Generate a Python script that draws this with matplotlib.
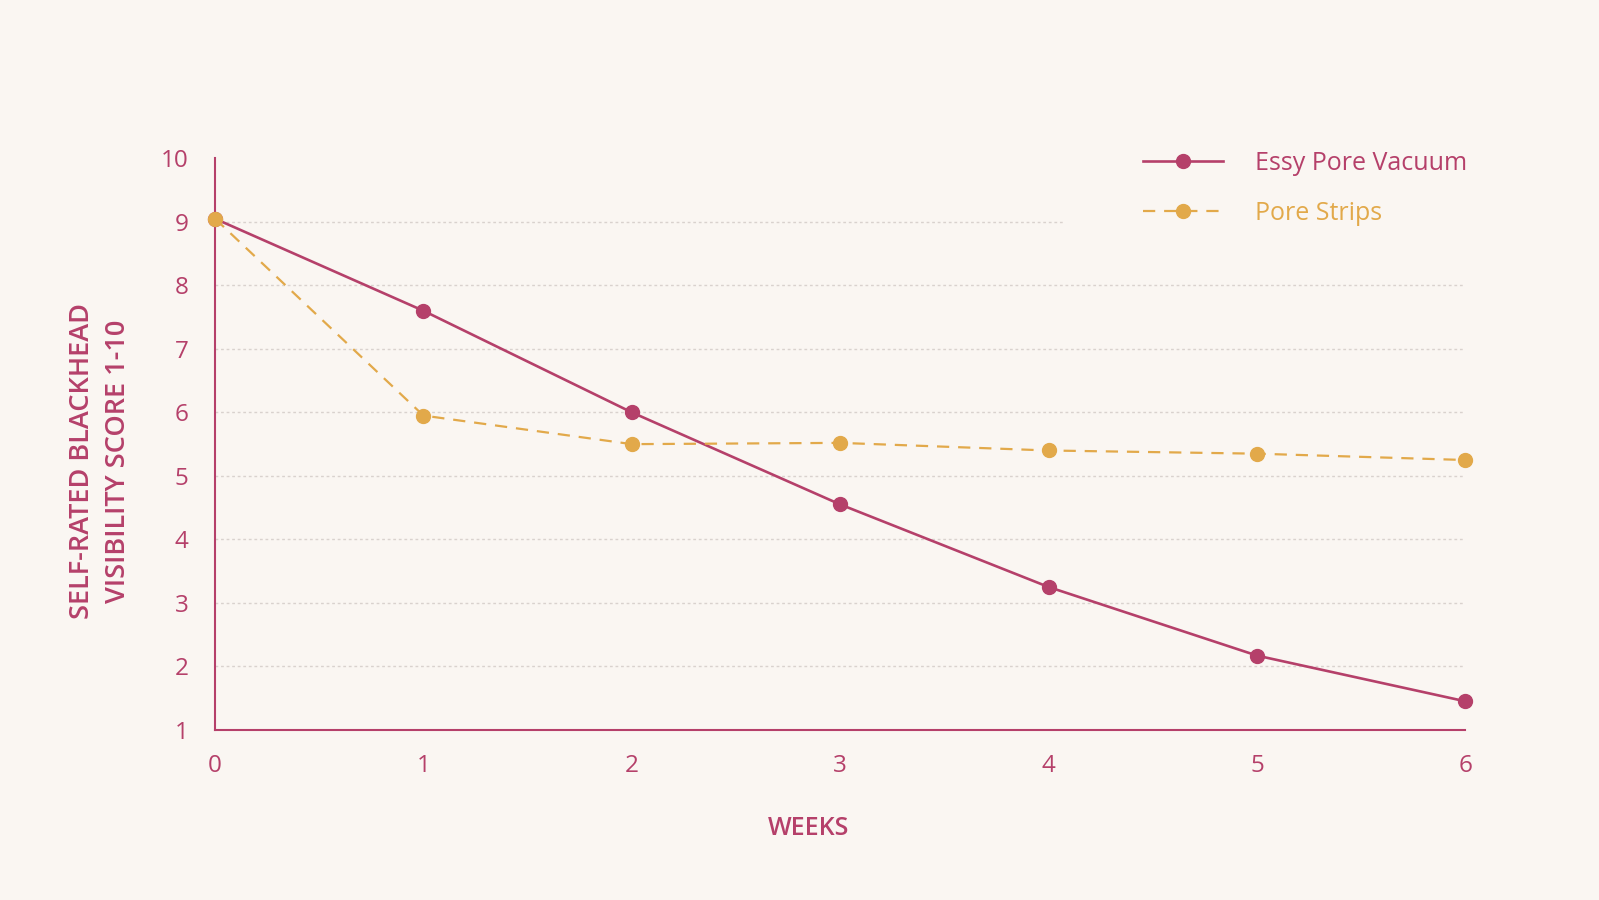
import numpy as np
import matplotlib.pyplot as plt

# data
weeks = [0, 1, 2, 3, 4, 5, 6]
vacuum = [9.05, 7.6, 6.0, 4.55, 3.25, 2.17, 1.45]
strips = [9.05, 5.95, 5.5, 5.52, 5.4, 5.35, 5.25]
yticks = [1, 2, 3, 4, 5, 6, 7, 8, 9, 10]

crimson = '#B5406A'
gold = '#E2A94A'
bg = '#FAF6F2'
grid_c = '#D9D2CE'

plt.rcParams['font.family'] = ['Open Sans', 'DejaVu Sans']

fig = plt.figure(figsize=(15.99, 9), dpi=100, facecolor=bg)
ax = fig.add_axes([0.1345, 0.189, 0.9165 - 0.1345, 0.824 - 0.189])
ax.set_facecolor(bg)

# grid lines
for v in yticks[1:-1]:
    xmax = 0.68 if v == 9 else 1.0
    ax.axhline(v, xmin=0, xmax=xmax, color=grid_c, lw=1, ls=(0, (2, 2)), zorder=0)

ax.plot(weeks, vacuum, color=crimson, lw=1.9, marker='o', ms=10,
        label='Essy Pore Vacuum', zorder=3, clip_on=False)
ax.plot(weeks, strips, color=gold, lw=1.6, ls=(0, (5.5, 4)), marker='o', ms=10,
        label='Pore Strips', zorder=4, clip_on=False)

ax.set_xlim(0, 6)
ax.set_ylim(1, 10)
ax.set_xticks(weeks)
ax.set_yticks(yticks)
ax.tick_params(axis='both', length=0, labelsize=17.5, labelcolor=crimson)
ax.tick_params(axis='y', pad=19)
ax.tick_params(axis='x', pad=17)
for lab in ax.get_xticklabels() + ax.get_yticklabels():
    lab.set_fontweight('medium')

for s in ['top', 'right']:
    ax.spines[s].set_visible(False)
for s in ['left', 'bottom']:
    ax.spines[s].set_color(crimson)
    ax.spines[s].set_linewidth(1.5)

ax.set_xlabel('WEEKS', fontsize=18, color=crimson, fontweight='semibold')
ax.xaxis.set_label_coords(0.475, -0.172)
ax.xaxis.label.set_va('center')
ax.set_ylabel('SELF-RATED BLACKHEAD\nVISIBILITY SCORE 1-10', fontsize=19.5, color=crimson,
              fontweight='semibold', linespacing=1.4)
ax.yaxis.set_label_coords(-0.092, 0.47)
ax.yaxis.label.set_va('center')

leg = fig.legend(loc='upper left', bbox_to_anchor=(0.701, 0.857), frameon=False,
                 fontsize=18, handlelength=3.2, handletextpad=1.25, labelspacing=1.0)
for t, c in zip(leg.get_texts(), [crimson, gold]):
    t.set_color(c)
    t.set_fontweight('medium')

fig.savefig('out.png', dpi=100, facecolor=bg)
